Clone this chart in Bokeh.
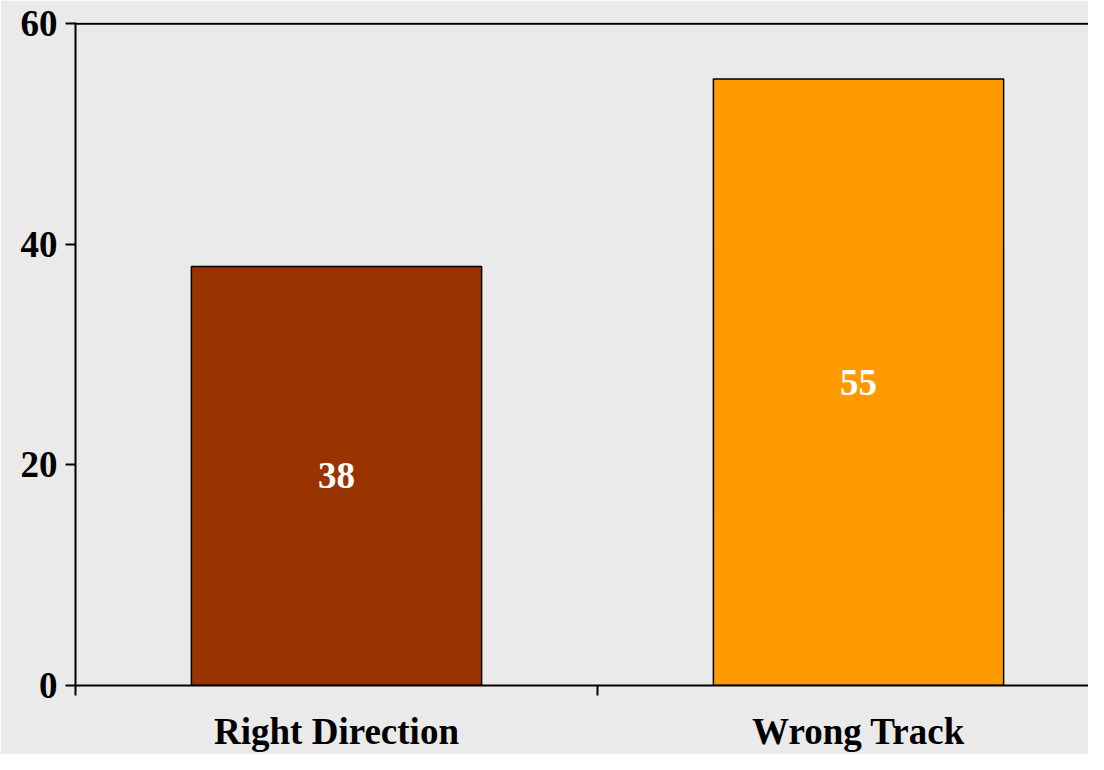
from bokeh.plotting import figure
from bokeh.models import FixedTicker, Span, ColumnDataSource, Range1d
from bokeh.core.properties import value
from bokeh.embed import file_html
from bokeh.resources import INLINE

categories = ["Right Direction", "Wrong Track"]
values = [38, 55]
colors = ["#993300", "#FF9900"]
y_ticks = [0, 20, 40, 60]

BG = "#EAEAEA"
FONT = "Liberation Serif"

x_pos = [i + 0.5 for i in range(len(categories))]
src = ColumnDataSource(dict(
    x=x_pos, top=values, color=colors,
    label_y=[v / 2 for v in values],
    label=[str(v) for v in values],
))

p = figure(width=1088, height=754, output_backend="svg", toolbar_location=None,
           x_range=Range1d(0, 1.9406), y_range=Range1d(0, 60.12),
           min_border_left=75, min_border_right=0, min_border_top=22,
           min_border_bottom=66)
p.background_fill_color = BG
p.border_fill_color = BG
p.outline_line_color = None
p.grid.visible = False

p.vbar(x="x", top="top", bottom=0, width=0.556, fill_color="color",
       line_color="black", line_width=1.5, source=src)
p.text(x="x", y="label_y", text="label", source=src, text_color="white",
       text_font=value(FONT), text_font_style="bold", text_font_size="37px",
       text_align="center", text_baseline="middle")

p.add_layout(Span(location=60, dimension="width", line_color="black", line_width=2))

# x axis
xa = p.xaxis[0]
xa.ticker = FixedTicker(ticks=x_pos, minor_ticks=[0, 1, 2])
xa.major_label_overrides = {x: c for x, c in zip(x_pos, categories)}
xa.major_tick_out = 0
xa.major_tick_in = 0
xa.minor_tick_out = 10
xa.minor_tick_in = 0
xa.minor_tick_line_color = "black"
xa.minor_tick_line_width = 2
xa.axis_line_color = "black"
xa.axis_line_width = 2
xa.major_label_text_font = FONT
xa.major_label_text_font_style = "bold"
xa.major_label_text_font_size = "37px"
xa.major_label_text_color = "black"
xa.major_label_standoff = 15

# y axis
ya = p.yaxis[0]
ya.ticker = FixedTicker(ticks=y_ticks)
ya.major_tick_out = 10
ya.major_tick_in = 0
ya.major_tick_line_width = 2
ya.major_tick_line_color = "black"
ya.minor_tick_line_color = None
ya.axis_line_color = "black"
ya.axis_line_width = 2
ya.major_label_text_font = FONT
ya.major_label_text_font_style = "bold"
ya.major_label_text_font_size = "37px"
ya.major_label_text_color = "black"
ya.major_label_standoff = 8

open("out.html", "w").write(file_html(p, INLINE))
